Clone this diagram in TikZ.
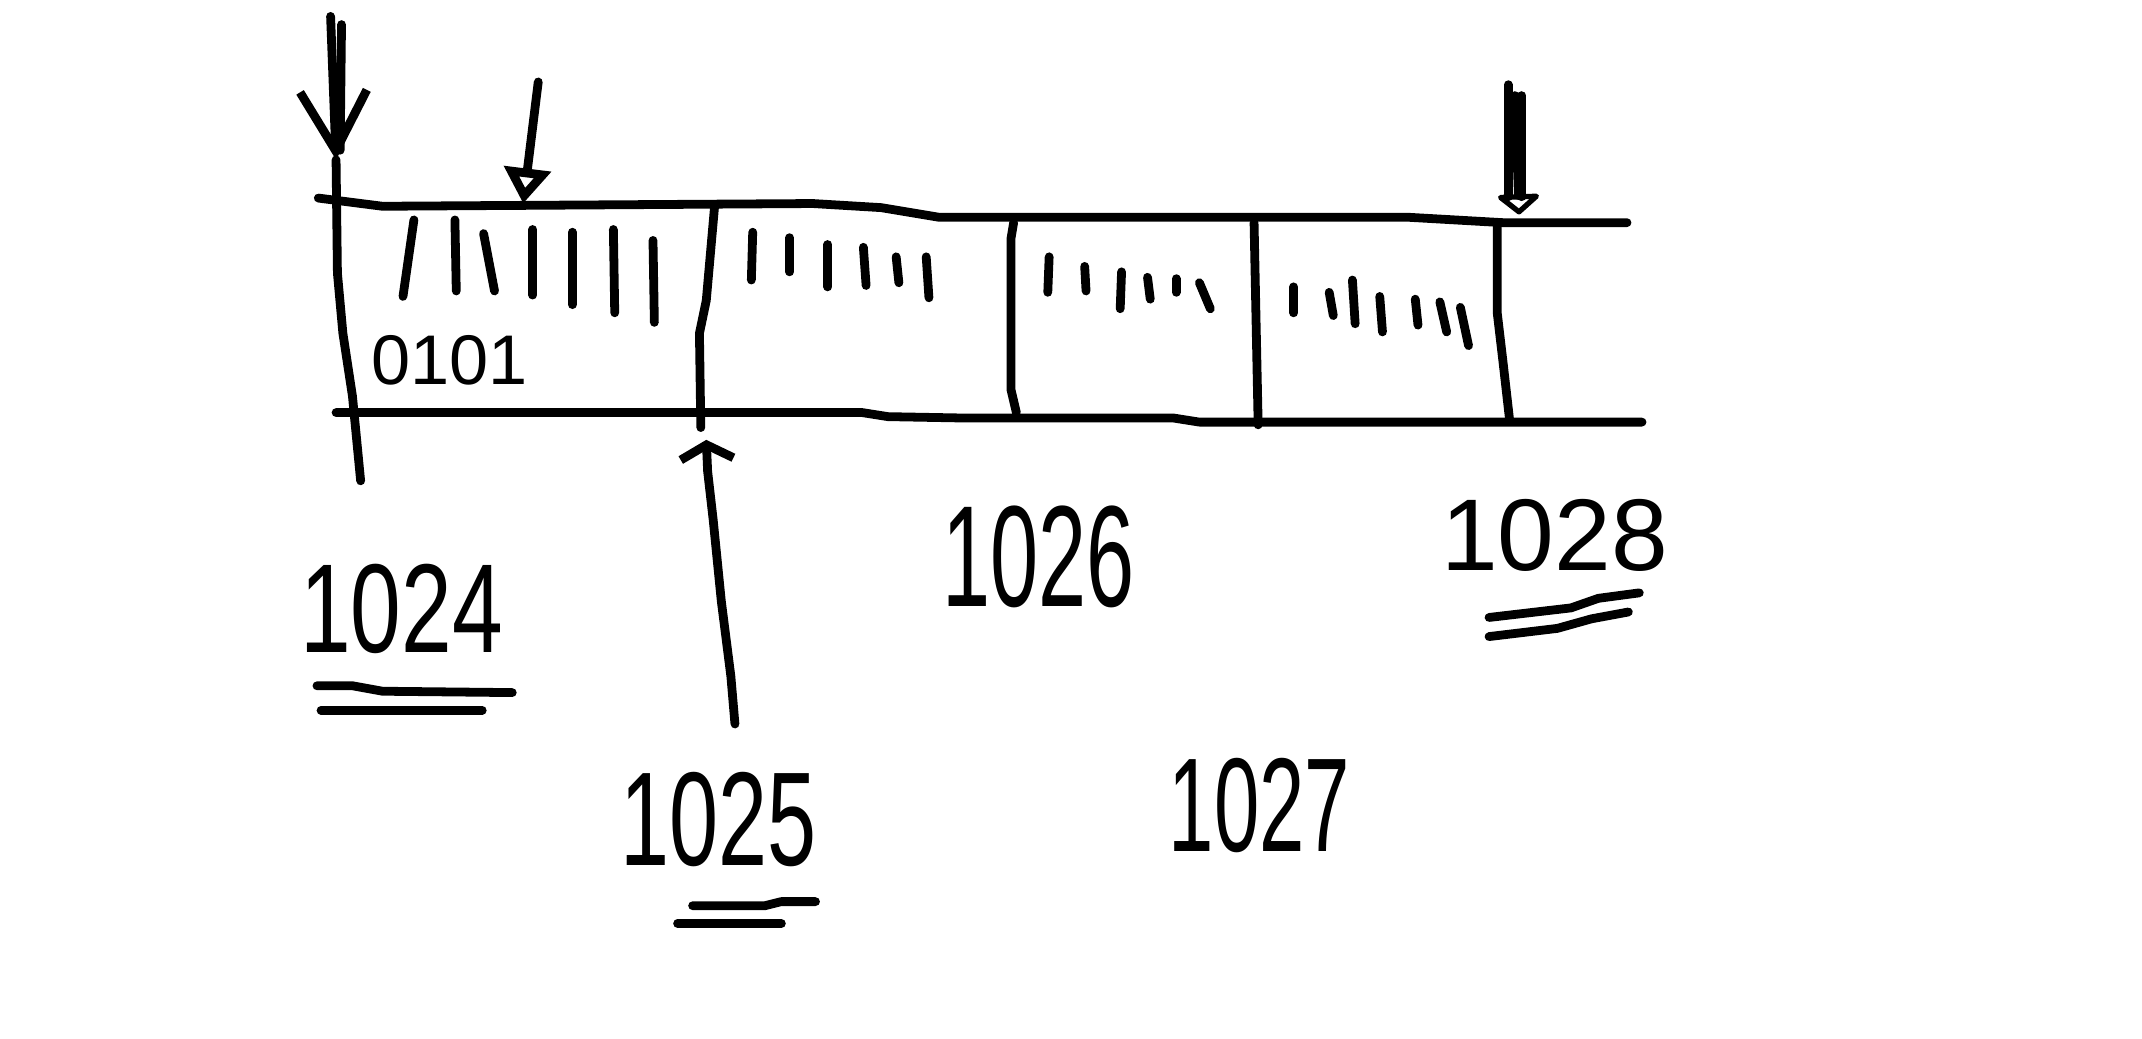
\documentclass[tikz,border=0pt]{standalone}
\usepackage{amsmath,amssymb}
\usepackage{fontspec}
\usepackage{tikz}
\newfontfamily\handfont{Liberation Sans}
\newcommand{\squeeze}[2]{\scalebox{#1}[1]{#2}}
\usetikzlibrary{arrows.meta,calc,positioning}

\begin{document}
\begin{tikzpicture}[x=0.1366mm,y=-0.1366mm,line width=2.5pt,line cap=round,line join=round,
    lbl/.style={font=\handfont\fontsize{#1}{#1}\selectfont,inner sep=0pt},
    bigvee/.style={-{Straight Barb[length=17pt,width=19pt]}},
    upvee/.style={-{Straight Barb[length=4pt,width=15pt]}},
    openhead/.style={-{Triangle[open,length=10pt,width=13pt]}},
    domehead/.style={-{Triangle[open,round,length=6pt,width=14pt]}}]
  \useasboundingbox (0,0) rectangle (1568,760);
  % the tape
  \draw (233,145) -- (280,151) -- (595,149) -- (645,152) -- (687,159) -- (1030,159) -- (1100,163) -- (1191,163);
  \draw (246,302) -- (631,302) -- (650,305) -- (705,306) -- (859,306) -- (878,309) -- (1202,309);
  \draw (523,152) -- (517,220) -- (512,244) -- (513,313);
  \draw (742,163) -- (740,175) -- (740,285) -- (744,302);
  \draw (918,163) -- (921,311);
  \draw (1096,163) -- (1096,229) -- (1100,263) -- (1105,307);
  % ticks
  \foreach \xa/\ya/\xb/\yb in {303/161/295/217, 333/161/334/213, 354/171/362/213, 390/168/390/216,
      419/170/419/223, 449/168/450/229, 478/176/479/236,
      551/170/550/205, 578/174/578/199, 606/179/606/210, 632/181/634/209, 656/188/658/207, 678/188/680/218,
      768/188/767/214, 794/195/795/213, 821/199/820/226, 840/203/842/219, 861/204/861/214, 878/207/886/226,
      947/210/947/229, 973/214/976/231, 990/205/992/237, 1010/217/1012/243, 1036/219/1038/238,
      1054/221/1059/243, 1069/225/1075/253}
    \draw (\xa,\ya) -- (\xb,\yb);
  \node[lbl=20] (bits) at (329,264) {0101};
  % pointers
  \coordinate (arrA) at (246,117);
  \coordinate (arrB) at (383,149);
  \coordinate (arrC) at (517,322);
  \coordinate (arrD) at (1112,157);
  \draw[bigvee] (242,12) -- (arrA);
  \draw (250,18) -- (249,110);
  \draw (arrA) -- (247,200) -- (251,244) -- (258,290) -- (264,352);
  \draw[openhead] (394,60) -- (arrB);
  \draw[upvee] (538,530) -- (535,495) -- (528,440) -- (522,380) -- (518,345) -- (arrC);
  \draw[domehead] (1109,70) -- (arrD);
  \draw (1104,62) -- (1104,144);
  \draw (1114,70) -- (1114,144);
  % numbers
  \node[lbl=36] (n1024) at (294,446) {\squeeze{0.72}{1024}};
  \node[lbl=38] (n1025) at (526,600) {\squeeze{0.66}{1025}};
  \node[lbl=41] (n1026) at (760,408) {\squeeze{0.6}{1026}};
  \node[lbl=38] (n1027) at (922,590) {\squeeze{0.61}{1027}};
  \node[lbl=29] (n1028) at (1138,392) {1028};
  % underlines
  \draw (232,502) -- (258,502) -- (280,506) -- (375,507);
  \draw (235,520) -- (353,520);
  \draw (507,663) -- (560,663) -- (572,660) -- (597,660);
  \draw (496,676) -- (572,676);
  \draw (1090,452) -- (1150,445) -- (1170,438) -- (1200,434);
  \draw (1090,466) -- (1140,460) -- (1165,453) -- (1192,448);
\end{tikzpicture}
\end{document}
